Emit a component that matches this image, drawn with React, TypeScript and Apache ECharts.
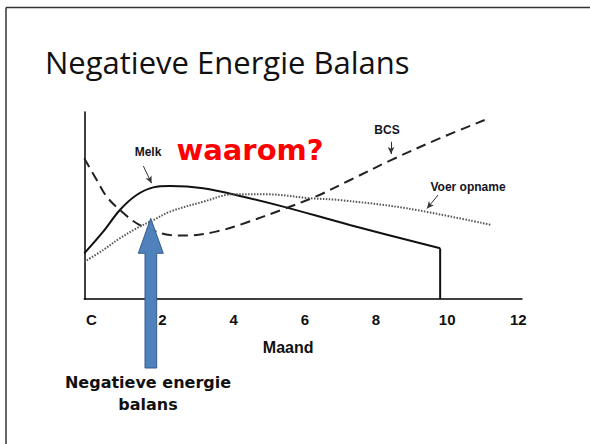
import React, { useEffect, useRef } from 'react';
import * as echarts from 'echarts';

const titleText = 'Negatieve Energie Balans';
const xAxisName = 'Maand';
const tickValues = [0, 2, 4, 6, 8, 10, 12];
const tickLabels = ['C', '2', '4', '6', '8', '10', '12'];

const melkX = [0, 0.53, 1.0, 1.47, 1.94, 2.41, 3.34, 4.47, 5.59, 7.46, 10];
const melkY = [24.4, 36.0, 47.6, 55.6, 59.7, 60.4, 59.2, 54.7, 49.4, 39.6, 27.1];

const bcsX = [0, 0.35, 0.63, 1.0, 1.47, 1.94, 2.41, 2.88, 3.81, 4.5, 5.59, 6.53, 7.46, 8.59, 10, 11.25];
const bcsY = [75.2, 63.6, 54.7, 47.6, 40.5, 36.5, 34.2, 33.9, 36.5, 40.5, 48, 55, 63.5, 74, 86, 95.7];

const voerX = [0, 0.53, 1.0, 1.47, 1.94, 2.41, 3.34, 4.19, 5.12, 6.34, 7.18, 9.06, 11.44];
const voerY = [19.9, 26.2, 32.5, 37.8, 42.2, 46.7, 52.0, 56.0, 56.0, 53.9, 52.9, 48.5, 39.6];

const melkEndX = [10, 10];
const melkEndY = [27.1, 0];

const seriesNames = ['Melk', 'BCS', 'Voer opname'];
const questionText = 'waarom?';
const arrowCaption = ['Negatieve energie', 'balans'];

const zip = (xs: number[], ys: number[]) => xs.map((x, i) => [x, ys[i]]);

export default function App() {
  const ref = useRef<HTMLDivElement>(null);
  useEffect(() => {
    document.body.style.margin = '0';
    const chart = echarts.init(ref.current!, null, { renderer: 'svg' });
    const labelFont = { fontFamily: 'Liberation Sans', fontWeight: 'bold' as const, fontSize: 12, fill: '#151520' };
    const annArrow = (from: number[], to: number[]) => ({
      silent: true,
      symbol: ['none', 'arrow'],
      symbolSize: [5, 7],
      label: { show: false },
      lineStyle: { type: 'solid', color: '#333', width: 1 },
      data: [[{ coord: from }, { coord: to }]],
    });
    chart.setOption({
      animation: false,
      backgroundColor: '#ffffff',
      grid: { left: 84.3, right: 68, top: 112, bottom: 145 },
      xAxis: {
        type: 'value',
        min: 0,
        max: 12.3,
        interval: 2,
        name: xAxisName,
        nameLocation: 'middle',
        nameGap: 40,
        nameTextStyle: { fontFamily: 'Liberation Sans', fontWeight: 'bold', fontSize: 16, color: '#111', padding: [0, 30, 0, 0] },
        axisLine: { lineStyle: { color: '#000', width: 1.5 } },
        axisTick: { show: false },
        splitLine: { show: false },
        axisLabel: {
          margin: 13,
          fontFamily: 'Liberation Sans',
          fontWeight: 'bold',
          fontSize: 15,
          color: '#111',
          padding: [0, 0, 0, 14],
          showMaxLabel: false,
          formatter: (v: number) => {
            const i = tickValues.indexOf(Math.round(v * 100) / 100);
            return i >= 0 ? tickLabels[i] : '';
          },
        },
      },
      yAxis: {
        type: 'value',
        min: 0,
        max: 100,
        axisLine: { show: true, lineStyle: { color: '#000', width: 1.5 } },
        axisTick: { show: false },
        axisLabel: { show: false },
        splitLine: { show: false },
      },
      series: [
        {
          name: seriesNames[0],
          type: 'line',
          data: zip(melkX, melkY),
          smooth: 0.35,
          symbol: 'none',
          lineStyle: { color: '#111', width: 2 },
          markLine: annArrow([1.66, 71.1], [1.89, 61.9]),
        },
        {
          name: seriesNames[0] + ' einde',
          type: 'line',
          data: zip(melkEndX, melkEndY),
          symbol: 'none',
          lineStyle: { color: '#111', width: 2 },
        },
        {
          name: seriesNames[1],
          type: 'line',
          data: zip(bcsX, bcsY),
          smooth: 0.35,
          symbol: 'none',
          lineStyle: { color: '#222', width: 2, type: [10, 6] },
          markLine: annArrow([8.62, 84.1], [8.62, 77.5]),
        },
        {
          name: seriesNames[2],
          type: 'line',
          data: zip(voerX, voerY),
          smooth: 0.35,
          symbol: 'none',
          lineStyle: { color: '#555', width: 2, type: [1.5, 1.5] },
          markLine: annArrow([9.94, 55.6], [9.63, 48.4]),
        },
      ],
      graphic: [
        { type: 'line', shape: { x1: 6, y1: 7.5, x2: 590, y2: 7.5 }, style: { stroke: '#333', lineWidth: 1.5 }, z: 50 },
        { type: 'line', shape: { x1: 6, y1: 7.5, x2: 6, y2: 444 }, style: { stroke: '#333', lineWidth: 1.5 }, z: 50 },
        {
          type: 'text', x: 45, y: 62, z: 50,
          style: { text: titleText, fontFamily: 'Open Sans', fontSize: 31, fill: '#111', verticalAlign: 'middle', align: 'left' },
        },
        {
          type: 'text', x: 250, y: 150, z: 50,
          style: { text: questionText, fontFamily: 'DejaVu Sans', fontWeight: 'bold', fontSize: 29, fill: '#ff0000', align: 'center', verticalAlign: 'middle' },
        },
        { type: 'text', x: 148, y: 152, z: 50, style: { ...labelFont, text: seriesNames[0], align: 'center', verticalAlign: 'middle' } },
        { type: 'text', x: 387, y: 130, z: 50, style: { ...labelFont, text: seriesNames[1], align: 'center', verticalAlign: 'middle' } },
        { type: 'text', x: 468, y: 187, z: 50, style: { ...labelFont, text: seriesNames[2], align: 'center', verticalAlign: 'middle' } },
        {
          type: 'polygon', z: 100,
          shape: { points: [[150.7, 218.3], [163.3, 253.3], [156.7, 253.3], [156.7, 368], [145, 368], [145, 253.3], [138.3, 253.3]] },
          style: { fill: '#4f81bd', stroke: '#385d8a', lineWidth: 1 },
        },
        {
          type: 'text', x: 148, y: 382, z: 50,
          style: { text: arrowCaption[0], fontFamily: 'DejaVu Sans', fontWeight: 'bold', fontSize: 16, fill: '#111', align: 'center', verticalAlign: 'middle' },
        },
        {
          type: 'text', x: 148, y: 404, z: 50,
          style: { text: arrowCaption[1], fontFamily: 'DejaVu Sans', fontWeight: 'bold', fontSize: 16, fill: '#111', align: 'center', verticalAlign: 'middle' },
        },
      ],
    });
    return () => chart.dispose();
  }, []);
  return <div ref={ref} style={{ width: 590, height: 444 }} />;
}
